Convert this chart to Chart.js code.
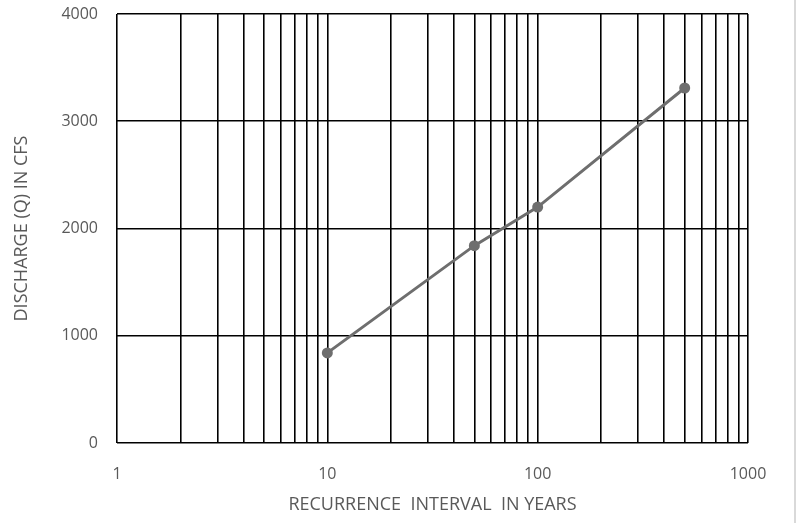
<!DOCTYPE html>
<html lang="en">
<head>
    <meta charset="UTF-8">
    <title>Discharge vs Recurrence Interval</title>
    <style>
        body {
            margin: 0;
            padding: 0;
            background-color: #ffffff;
        }

        #chartWrap {
            position: relative;
            width: 800px;
            height: 523px;
        }
    </style>
    <script src="https://cdn.jsdelivr.net/npm/chart.js"></script>
</head>
<body>
    <div id="chartWrap">
        <canvas id="dischargeChart"></canvas>
    </div>

    <script>
        // recurrence interval (years) and peak discharge (cfs)
        const recurrenceYears = [10, 50, 100, 500];
        const dischargeCfs = [840, 1840, 2200, 3310];

        // log grid lines, 1 to 1000
        const xGridValues = [1, 2, 3, 4, 5, 6, 7, 8, 9,
                             10, 20, 30, 40, 50, 60, 70, 80, 90,
                             100, 200, 300, 400, 500, 600, 700, 800, 900, 1000];
        const xLabelValues = [1, 10, 100, 1000];
        const yTickValues = [0, 1000, 2000, 3000, 4000];

        const labelColor = '#595959';
        const fontFamily = "'Open Sans', 'Liberation Sans', sans-serif";

        // thin grey frame line on the right edge
        const frameEdge = {
            id: 'frameEdge',
            afterDraw(chart) {
                const ctx = chart.ctx;
                ctx.save();
                ctx.strokeStyle = '#d9d9d9';
                ctx.lineWidth = 2;
                ctx.beginPath();
                ctx.moveTo(795, 0);
                ctx.lineTo(795, chart.height);
                ctx.stroke();
                ctx.restore();
            }
        };

        const ctx = document.getElementById('dischargeChart').getContext('2d');
        const chart = new Chart(ctx, {
            type: 'line',
            data: {
                datasets: [{
                    label: 'Discharge',
                    data: recurrenceYears.map((x, i) => ({ x: x, y: dischargeCfs[i] })),
                    borderColor: '#6e6e6e',
                    backgroundColor: '#6e6e6e',
                    borderWidth: 3,
                    pointRadius: 5.5,
                    pointHoverRadius: 5.5,
                    pointBackgroundColor: '#6e6e6e',
                    pointBorderWidth: 0,
                    tension: 0
                }]
            },
            options: {
                responsive: true,
                maintainAspectRatio: false,
                animation: false,
                layout: {
                    padding: { top: 14, right: 52, bottom: 0, left: 0 }
                },
                plugins: {
                    legend: { display: false },
                    tooltip: { enabled: false }
                },
                scales: {
                    x: {
                        type: 'logarithmic',
                        min: 1,
                        max: 1000,
                        afterBuildTicks: scale => {
                            scale.ticks = xGridValues.map(v => ({ value: v }));
                        },
                        afterFit: scale => { scale.height = 80; },
                        border: { display: false },
                        grid: {
                            color: '#000000',
                            lineWidth: 1.6,
                            drawTicks: false
                        },
                        ticks: {
                            autoSkip: false,
                            maxRotation: 0,
                            padding: 22,
                            color: labelColor,
                            font: { family: fontFamily, size: 16 },
                            callback: value => xLabelValues.includes(value) ? String(value) : ''
                        },
                        title: {
                            display: true,
                            text: 'RECURRENCE  INTERVAL  IN YEARS',
                            color: labelColor,
                            font: { family: fontFamily, size: 18 },
                            padding: { top: 0, bottom: 7 }
                        }
                    },
                    y: {
                        min: 0,
                        max: 4000,
                        afterBuildTicks: scale => {
                            scale.ticks = yTickValues.map(v => ({ value: v }));
                        },
                        afterFit: scale => {
                            scale.width = 117;
                            scale.paddingTop = 0;
                            scale.paddingBottom = 0;
                        },
                        border: { display: false },
                        grid: {
                            color: '#000000',
                            lineWidth: 1.6,
                            drawTicks: false
                        },
                        ticks: {
                            padding: 19,
                            color: labelColor,
                            font: { family: fontFamily, size: 16 },
                            callback: value => String(value)
                        },
                        title: {
                            display: true,
                            text: 'DISCHARGE (Q) IN CFS',
                            color: labelColor,
                            font: { family: fontFamily, size: 18 },
                            padding: { top: 11, bottom: 0 }
                        }
                    }
                }
            },
            plugins: [frameEdge]
        });
    </script>
</body>
</html>
